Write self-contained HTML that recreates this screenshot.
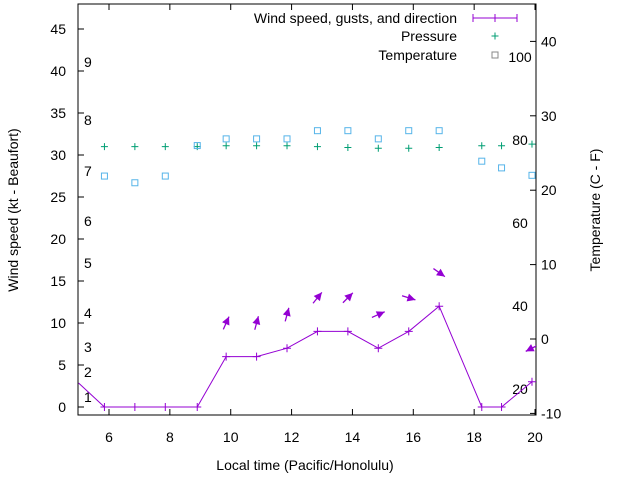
<!DOCTYPE html>
<html><head><meta charset="utf-8"><style>
body{margin:0;background:#fff}
svg{font-family:"Liberation Sans",sans-serif;font-size:14px}
</style></head><body>
<svg id="c" width="640" height="480" xmlns="http://www.w3.org/2000/svg"></svg>
<script>
const hours=[5.85,6.85,7.85,8.9,9.85,10.85,11.85,12.85,13.85,14.85,15.85,16.85,18.25,18.9,19.9];
const wind=[0,0,0,0,6,6,7,9,9,7,9,12,0,0,3];
const dirHeading=[null,null,null,null,24,15,15,39,45,66,107,125,null,null,243];
const pressure=[31,31,31,31,31.1,31.1,31.1,31,30.9,30.8,30.8,30.9,31.1,31.1,31.3];
const tempC=[21.9,21,21.9,26,26.9,26.9,26.9,28,28,26.9,28,28,23.9,23,22];
const xTicks=[6,8,10,12,14,16,18,20];
const yTicks=[0,5,10,15,20,25,30,35,40,45];
const y2Ticks=[-10,0,10,20,30,40];
const beaufort=[[1,397],[2,372],[3,347],[4,313],[5,263],[6,221],[7,171],[8,120],[9,62]];
const fahr=[20,40,60,80,100];
const L=78,R=536,T=4,B=415;
const X=t=>109+(t-6)*30.43, Y=v=>407-8.4*v, Y2=c=>339-7.44*c;
const svg=document.getElementById('c');const NS='http://www.w3.org/2000/svg';
function el(tag,a,txt){const e=document.createElementNS(NS,tag);for(const k in a)e.setAttribute(k,a[k]);if(txt!==undefined)e.textContent=txt;svg.appendChild(e);return e;}
const cp=el('clipPath',{id:'cp'});const cr=document.createElementNS(NS,'rect');
cr.setAttribute('x',L);cr.setAttribute('y',T);cr.setAttribute('width',R-L);cr.setAttribute('height',B-T);cp.appendChild(cr);
let f=el('rect',{x:L,y:T,width:R-L,height:B-T,fill:'none',stroke:'#000'});


xTicks.forEach(t=>{el('line',{x1:X(t),x2:X(t),y1:B,y2:B-6,stroke:'#000'});el('line',{x1:X(t),x2:X(t),y1:T,y2:T+6,stroke:'#000'});
 let e=el('text',{x:X(t),y:442,'text-anchor':'middle'},t);
 
 });
yTicks.forEach(v=>{el('line',{x1:L,x2:L+6,y1:Y(v),y2:Y(v),stroke:'#000'});
 let e=el('text',{x:66,y:Y(v)+5,'text-anchor':'end'},v);
 
 });
y2Ticks.forEach(c=>{el('line',{x1:R,x2:R-6,y1:Y2(c),y2:Y2(c),stroke:'#000'});
 let e=el('text',{x:541,y:Y2(c)+5},c);
 
 });
beaufort.forEach(b=>{let e=el('text',{x:84,y:b[1]+5},b[0]);
 
 });
fahr.forEach(v=>{let e=el('text',{x:520,y:389-(v-20)*4.15+5,'text-anchor':'middle'},v);
 
 });
let t1=el('text',{x:305,y:470,'text-anchor':'middle'},'Local time (Pacific/Honolulu)');

let t2=el('text',{x:18,y:210,'text-anchor':'middle',transform:'rotate(-90 18 210)'},'Wind speed (kt - Beaufort)');

let t3=el('text',{x:600,y:210,'text-anchor':'middle',transform:'rotate(-90 600 210)'},'Temperature (C - F)');

const g=el('g',{'clip-path':'url(#cp)'});
function add(tag,a){const e=document.createElementNS(NS,tag);for(const k in a)e.setAttribute(k,a[k]);g.appendChild(e);return e;}
let pts=[[X(5),Y(2.86)]].concat(hours.map((h,i)=>[X(h),Y(wind[i])]));
let wl=add('polyline',{points:pts.map(p=>p.join(',')).join(' '),fill:'none',stroke:'#9400d3'});

hours.forEach((h,i)=>{const x=X(h),y=Y(wind[i]);
 let p=add('path',{d:`M${x-4} ${y}h8M${x} ${y-4}v8`,stroke:'#9400d3'});
 
 if(dirHeading[i]!==null){const a=dirHeading[i]*Math.PI/180,dx=Math.sin(a)*7,dy=-Math.cos(a)*7,cx=x,cy=Y(wind[i]+4);
  const hx=cx+dx,hy=cy+dy,ux=dx/7,uy=dy/7;
  let ar=add('path',{d:`M${cx-dx} ${cy-dy}L${hx} ${hy}`,stroke:'#9400d3','stroke-width':1.3});
  
  let hd=add('polygon',{points:`${hx},${hy} ${hx-ux*8-uy*4},${hy-uy*8+ux*4} ${hx-ux*8+uy*4},${hy-uy*8-ux*4}`,fill:'#9400d3'});
  }
 const py=Y(pressure[i]);
 let pp=add('path',{d:`M${x-3.5} ${py}h7M${x} ${py-3.5}v7`,stroke:'#009e73'});
 
 let tp=add('rect',{x:x-3,y:Y2(tempC[i])-3,width:6,height:6,fill:'none',stroke:'#56b4e9'});
 
});
let l1=el('text',{x:457,y:23,'text-anchor':'end'},'Wind speed, gusts, and direction');

el('path',{d:'M473 18h44M473 14v8M517 14v8M495 14v8',stroke:'#9400d3'});
let l2=el('text',{x:457,y:41,'text-anchor':'end'},'Pressure');

el('path',{d:'M491.5 36h7M495 32.5v7',stroke:'#009e73'});
let l3=el('text',{x:457,y:60,'text-anchor':'end'},'Temperature');

el('rect',{x:492,y:52,width:6,height:6,fill:'none',stroke:'#888'});
</script>
</body></html>
